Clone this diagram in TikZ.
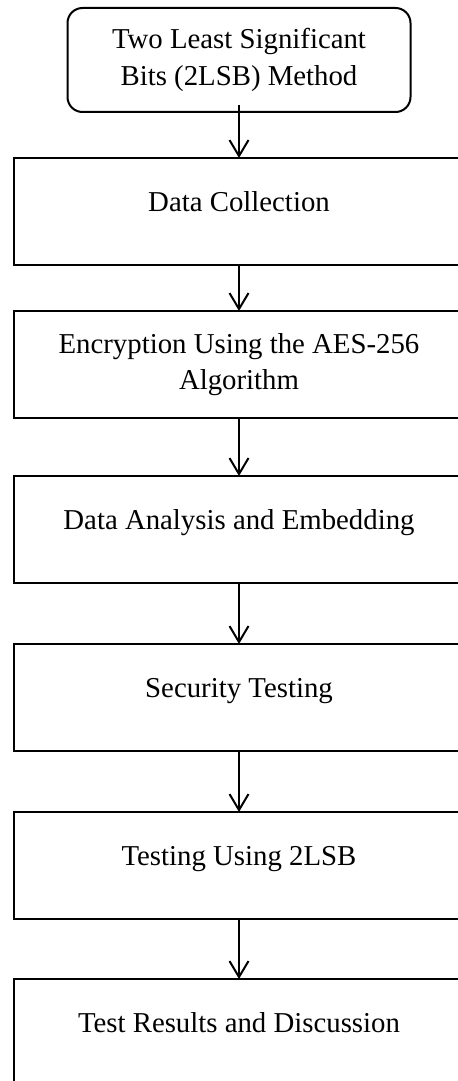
\documentclass[tikz,border=0pt]{standalone}
\usepackage{fontspec}
\setmainfont{Liberation Serif}
\usetikzlibrary{arrows.meta,positioning}

\begin{document}
\begin{tikzpicture}[
  node distance=23pt,
  startbox/.style={draw, rounded corners=7.5pt, minimum width=171.5pt,
    minimum height=52pt, align=center, line width=1pt, outer sep=0pt,
    font=\fontsize{14.4}{18.2}\selectfont},
  stepbox/.style={draw, minimum width=225pt, minimum height=53.5pt,
    align=center, line width=1pt, outer sep=0pt,
    font=\fontsize{14.4}{18.2}\selectfont},
  oneline/.style={text height=10pt, text depth=10pt},
  arrow/.style={-{Straight Barb[length=8pt, width=9.5pt]}, line width=1pt}
]
  \useasboundingbox (0,0) rectangle (229pt,-540.5pt);

  \node[startbox] (method) at (119.5pt,-30pt) {Two Least Significant\\Bits (2LSB) Method};
  \node[stepbox, oneline, below=of method] (collect) {Data Collection};
  \node[stepbox, below=of collect] (encrypt) {Encryption Using the AES-256\\Algorithm};
  \node[stepbox, oneline, below=29pt of encrypt] (embed) {Data Analysis and Embedding};
  \node[stepbox, oneline, below=30.5pt of embed] (security) {Security Testing};
  \node[stepbox, oneline, below=30.5pt of security] (testing) {Testing Using 2LSB};
  \node[stepbox, oneline, below=30pt of testing] (results) {Test Results and Discussion};

  \draw[arrow] ([yshift=3.5pt]method.south) -- (collect.north);
  \draw[arrow] (collect) -- (encrypt);
  \draw[arrow] (encrypt) -- (embed);
  \draw[arrow] (embed) -- (security);
  \draw[arrow] (security) -- (testing);
  \draw[arrow] (testing) -- (results);
\end{tikzpicture}
\end{document}
